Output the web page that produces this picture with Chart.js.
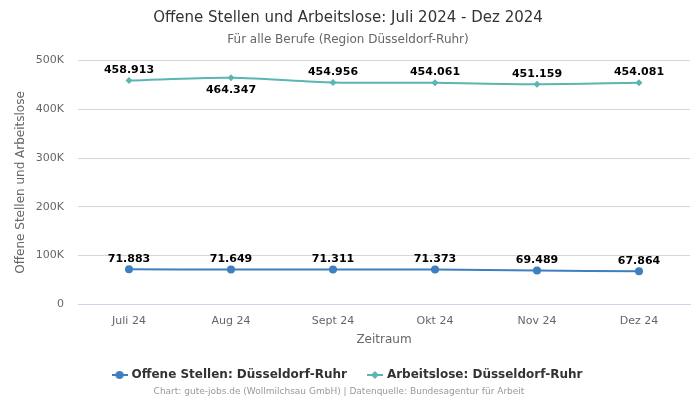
<!DOCTYPE html>
<html>
<head>
<meta charset="utf-8">
<script src="https://cdn.jsdelivr.net/npm/chart.js@4"></script>
<style>
  html, body { margin: 0; padding: 0; background: #fff; }
  #wrap { width: 700px; height: 400px; position: relative; }
</style>
</head>
<body>
<div id="wrap"><canvas id="chart"></canvas></div>
<script>
/* ── DATA ─────────────────────────────────────────── */
const months = ['Juli 24', 'Aug 24', 'Sept 24', 'Okt 24', 'Nov 24', 'Dez 24'];
const offeneStellen = [71883, 71649, 71311, 71373, 69489, 67864];
const arbeitslose = [458913, 464347, 454956, 454061, 451159, 454081];
const yTicks = [0, 100000, 200000, 300000, 400000, 500000];

const BLUE = '#3d7fbf';
const TEAL = '#5bb5b1';
const FONT = "'DejaVu Sans', sans-serif";

// German thousands separator
const fmt = v => String(v).replace(/\B(?=(\d{3})+(?!\d))/g, '.');

// legend icon: short line with the marker on top
function legendIcon(color, shape) {
  const c = document.createElement('canvas');
  c.width = 16; c.height = 10;
  const g = c.getContext('2d');
  g.strokeStyle = color; g.lineWidth = 2;
  g.beginPath(); g.moveTo(0, 5); g.lineTo(16, 5); g.stroke();
  g.fillStyle = color;
  g.beginPath();
  if (shape === 'circle') {
    g.arc(8, 5, 4, 0, Math.PI * 2);
  } else {
    g.moveTo(8, 1); g.lineTo(12, 5); g.lineTo(8, 9); g.lineTo(4, 5); g.closePath();
  }
  g.fill();
  return c;
}

/* ── DATA LABELS ──────────────────────────────────── */
const valueLabels = {
  id: 'valueLabels',
  afterDatasetsDraw(chart) {
    const ctx = chart.ctx;
    ctx.save();
    ctx.font = 'bold 11px ' + FONT;
    ctx.fillStyle = '#000';
    ctx.textAlign = 'center';
    chart.data.datasets.forEach((ds, i) => {
      const meta = chart.getDatasetMeta(i);
      meta.data.forEach((pt, j) => {
        const below = ds.labelBelow && ds.labelBelow[j];
        ctx.textBaseline = below ? 'top' : 'bottom';
        ctx.fillText(fmt(ds.data[j]), pt.x, below ? pt.y + 7 : pt.y - 5);
      });
    });
    ctx.restore();
  }
};

/* ── CREDIT LINE ──────────────────────────────────── */
const credit = {
  id: 'credit',
  afterDraw(chart) {
    const ctx = chart.ctx;
    ctx.save();
    ctx.font = '9px ' + FONT;
    ctx.fillStyle = '#999';
    ctx.textAlign = 'center';
    ctx.textBaseline = 'middle';
    ctx.fillText('Chart: gute-jobs.de (Wollmilchsau GmbH) | Datenquelle: Bundesagentur für Arbeit', 339, 392);
    ctx.restore();
  }
};

new Chart(document.getElementById('chart'), {
  type: 'line',
  data: {
    labels: months,
    datasets: [{
      label: 'Offene Stellen: Düsseldorf-Ruhr',
      data: offeneStellen,
      borderColor: BLUE,
      backgroundColor: BLUE,
      borderWidth: 2,
      pointStyle: 'circle',
      pointRadius: 4,
      pointBorderWidth: 0,
      pointHoverRadius: 4,
      tension: 0.3,
    }, {
      label: 'Arbeitslose: Düsseldorf-Ruhr',
      data: arbeitslose,
      borderColor: TEAL,
      backgroundColor: TEAL,
      borderWidth: 2,
      pointStyle: 'rectRot',
      pointRadius: 3.5,
      pointBorderWidth: 0,
      pointHoverRadius: 3.5,
      tension: 0.3,
      labelBelow: [false, true, false, false, false, false],
    }],
  },
  options: {
    responsive: true,
    maintainAspectRatio: false,
    animation: false,
    layout: { padding: { left: 6, right: 10, top: 5, bottom: 9 } },
    plugins: {
      title: {
        display: true,
        text: 'Offene Stellen und Arbeitslose: Juli 2024 - Dez 2024',
        color: '#333',
        font: { family: FONT, size: 15, weight: 'normal' },
        padding: { top: 4, bottom: 6 },
      },
      subtitle: {
        display: true,
        text: 'Für alle Berufe (Region Düsseldorf-Ruhr)',
        color: '#666',
        font: { family: FONT, size: 12 },
        padding: { bottom: 13 },
      },
      legend: {
        position: 'bottom',
        labels: {
          color: '#333',
          font: { family: FONT, size: 12, weight: 'bold' },
          usePointStyle: true,
          padding: 22,
          generateLabels(chart) {
            return chart.data.datasets.map((ds, i) => ({
              text: ds.label,
              fontColor: '#333',
              pointStyle: legendIcon(ds.borderColor, i === 0 ? 'circle' : 'diamond'),
              datasetIndex: i,
              hidden: false,
              lineWidth: 0,
            }));
          },
        },
      },
      tooltip: { enabled: false },
    },
    scales: {
      x: {
        offset: true,
        grid: { display: false },
        border: { color: '#ccd6eb' },
        ticks: { color: '#666', font: { family: FONT, size: 11 }, padding: 2 },
        title: {
          display: true,
          text: 'Zeitraum',
          color: '#666',
          font: { family: FONT, size: 12 },
          padding: { top: 3, bottom: 0 },
        },
      },
      y: {
        min: 0,
        max: 500000,
        afterBuildTicks: axis => { axis.ticks = yTicks.map(v => ({ value: v })); },
        afterFit: axis => { axis.width = 72; },
        grid: { color: '#d6d6d6', drawTicks: false },
        border: { display: false },
        ticks: {
          color: '#666',
          font: { family: FONT, size: 11 },
          padding: 14,
          callback: v => v === 0 ? '0' : (v / 1000) + 'K',
        },
        title: {
          display: true,
          text: 'Offene Stellen und Arbeitslose',
          color: '#666',
          font: { family: FONT, size: 12 },
          padding: { top: 8, bottom: 0 },
        },
      },
    },
  },
  plugins: [valueLabels, credit],
});
</script>
</body>
</html>
